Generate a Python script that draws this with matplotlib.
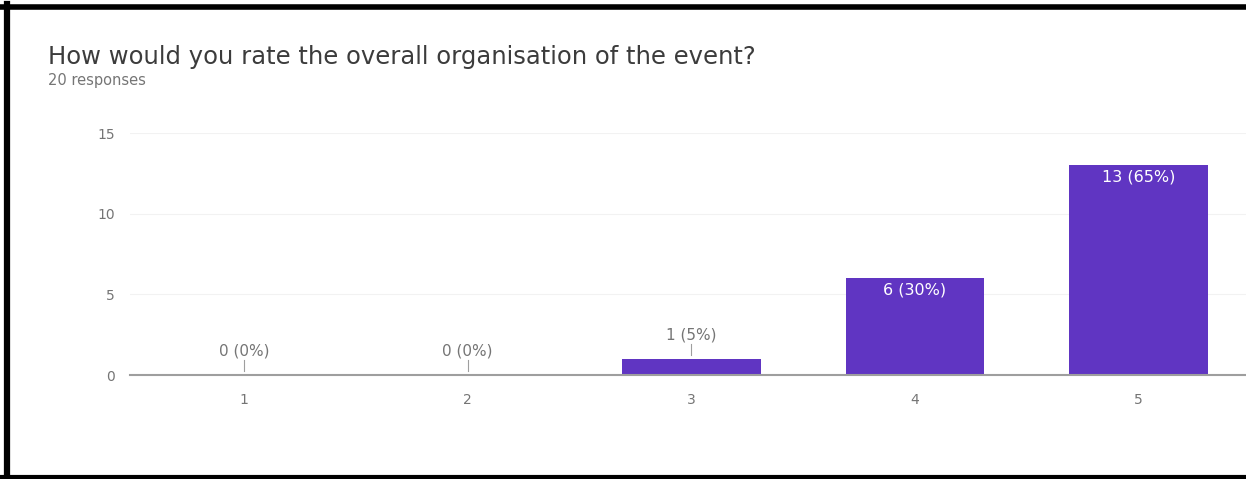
import matplotlib.pyplot as plt
from matplotlib.lines import Line2D

# data
ratings = ['1', '2', '3', '4', '5']
counts = [0, 0, 1, 6, 13]
total = 20
yticks = [0, 5, 10, 15]

title = 'How would you rate the overall organisation of the event?'
subtitle = '%d responses' % total

bar_color = '#6035c2'
text_gray = '#757575'

plt.rcParams['font.family'] = ['DejaVu Sans']

fig = plt.figure(figsize=(12.46, 4.79), dpi=100)
ax = fig.add_axes([0.1043, 0.2171, 0.8957, 0.5052])

xs = list(range(1, len(ratings) + 1))
ax.bar(xs, counts, width=0.62, color=bar_color, zorder=3)

for x, c in zip(xs, counts):
    lab = '%d (%d%%)' % (c, round(100 * c / total))
    if c >= 3:
        ax.annotate(lab, (x, c), xytext=(0, -8.5), textcoords='offset points',
                    ha='center', va='center', color='white', fontsize=11.5, zorder=4)
    else:
        ax.plot([x, x], [c + 0.25, c + 0.95], color='#9e9e9e', lw=0.8, zorder=4)
        ax.text(x, c + 1.5, lab, ha='center', va='center', color=text_gray,
                fontsize=11, zorder=4)

ax.set_xlim(0.49, 5.48)
ax.set_ylim(0, 15)
ax.set_xticks(xs)
ax.set_xticklabels(ratings)
ax.set_yticks(yticks)
ax.tick_params(axis='both', length=0, colors=text_gray, labelsize=10)
ax.tick_params(axis='x', pad=13)
ax.tick_params(axis='y', pad=11)
ax.yaxis.grid(True, color='#f2f2f2', lw=0.8, zorder=0)
for s in ['top', 'right', 'left']:
    ax.spines[s].set_visible(False)
ax.spines['bottom'].set_color('#9e9e9e')
ax.spines['bottom'].set_linewidth(1.5)
ax.spines['bottom'].set_zorder(5)

fig.text(48 / 1246, 1 - 57 / 479, title, fontsize=17.5, color='#3c3c3c',
         ha='left', va='center')
fig.text(48 / 1246, 1 - 80 / 479, subtitle, fontsize=10.5, color=text_gray,
         ha='left', va='center')

# black frame of the screenshot (top, left, bottom)
fig.add_artist(Line2D([0, 1], [1 - 6.5 / 479] * 2, transform=fig.transFigure,
                      color='black', lw=4))
fig.add_artist(Line2D([6.5 / 1246] * 2, [0, 1 - 4 / 479], transform=fig.transFigure,
                      color='black', lw=4.5))
fig.add_artist(Line2D([0, 1], [2 / 479] * 2, transform=fig.transFigure,
                      color='black', lw=3))

fig.savefig('out.png', dpi=100)
